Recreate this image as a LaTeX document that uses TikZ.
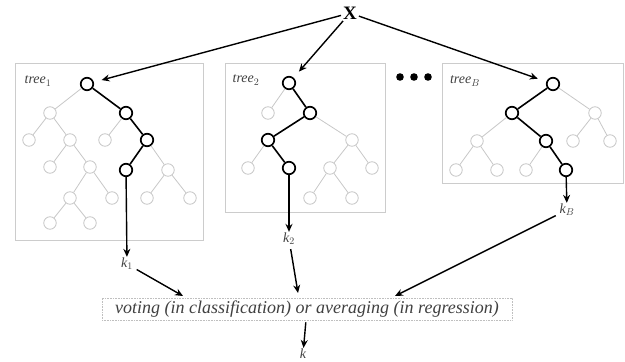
\documentclass[tikz,border=0pt]{standalone}
\usepackage{fontspec}
\setmainfont{Liberation Serif}
\usetikzlibrary{arrows.meta}

\begin{document}
\begin{tikzpicture}[x=1pt, y=-1pt,
    pathnode/.style={circle, draw=black, line width=1.7pt, minimum size=12.5pt, inner sep=0pt},
    restnode/.style={circle, draw=black!22, line width=0.8pt, minimum size=12.5pt, inner sep=0pt},
    restedge/.style={draw=black!22, line width=0.8pt},
    pathedge/.style={draw=black, line width=1.6pt},
    frame/.style={draw=black!20, line width=0.6pt},
    flow/.style={-{Stealth[length=8pt,width=7pt]}, line width=1.4pt},
    lbl/.style={inner sep=1pt, font=\fontsize{14}{16}\selectfont\itshape, text=black!75}]
    \useasboundingbox (0,0) rectangle (625,362);

    % input
    \node[inner sep=0pt, font=\fontsize{19}{21}\selectfont\bfseries] (X) at (350,13) {X};

    % tree 1
    \draw[frame] (15,63) rectangle (203,240);
    \node[lbl] (t1) at (38,81) {tree$_1$};
    \node[pathnode] (a0) at (87,84) {};
    \node[restnode] (a1) at (50,113) {};
    \node[pathnode] (a2) at (126,113) {};
    \node[restnode] (a3) at (29,140) {};
    \node[restnode] (a4) at (70,140) {};
    \node[restnode] (a5) at (105,140) {};
    \node[pathnode] (a6) at (147,140) {};
    \node[restnode] (a7) at (50,167) {};
    \node[restnode] (a8) at (90,167) {};
    \node[pathnode] (a9) at (126,170) {};
    \node[restnode] (a10) at (168,170) {};
    \node[restnode] (a11) at (70,198) {};
    \node[restnode] (a12) at (112,198) {};
    \node[restnode] (a13) at (147,198) {};
    \node[restnode] (a14) at (190,198) {};
    \node[restnode] (a15) at (50,223) {};
    \node[restnode] (a16) at (90,223) {};
    \draw[restedge] (a0)--(a1) (a1)--(a3) (a1)--(a4) (a4)--(a7) (a4)--(a8)
      (a8)--(a11) (a8)--(a12) (a11)--(a15) (a11)--(a16) (a2)--(a5)
      (a6)--(a10) (a10)--(a13) (a10)--(a14);
    \draw[pathedge] (a0)--(a2) (a2)--(a6) (a6)--(a9);

    % tree 2
    \draw[frame] (225,63) rectangle (385,212);
    \node[lbl] (t2) at (246,80) {tree$_2$};
    \node[pathnode] (b0) at (289,83) {};
    \node[restnode] (b1) at (268,113) {};
    \node[pathnode] (b2) at (310,113) {};
    \node[pathnode] (b3) at (268,140) {};
    \node[restnode] (b4) at (352,140) {};
    \node[restnode] (b5) at (248,168) {};
    \node[pathnode] (b6) at (289,168) {};
    \node[restnode] (b7) at (330,168) {};
    \node[restnode] (b8) at (372,168) {};
    \node[restnode] (b9) at (310,198) {};
    \node[restnode] (b10) at (352,198) {};
    \draw[restedge] (b0)--(b1) (b2)--(b4) (b3)--(b5) (b4)--(b7) (b4)--(b8)
      (b7)--(b9) (b7)--(b10);
    \draw[pathedge] (b0)--(b2) (b2)--(b3) (b3)--(b6);

    % dots
    \foreach \dx in {400,414,428}
      \fill (\dx,77) circle (3.8pt);

    % tree B
    \draw[frame] (442,63) rectangle (623,183);
    \node[lbl] (tB) at (465,81) {tree$_B$};
    \node[pathnode] (c0) at (553,84) {};
    \node[pathnode] (c1) at (512,113) {};
    \node[restnode] (c2) at (595,113) {};
    \node[restnode] (c3) at (477,141) {};
    \node[pathnode] (c4) at (546,141) {};
    \node[restnode] (c5) at (573,141) {};
    \node[restnode] (c6) at (610,141) {};
    \node[restnode] (c7) at (456,170) {};
    \node[restnode] (c8) at (497,170) {};
    \node[restnode] (c9) at (526,170) {};
    \node[pathnode] (c10) at (566,170) {};
    \draw[restedge] (c0)--(c2) (c2)--(c5) (c2)--(c6) (c1)--(c3) (c3)--(c7)
      (c3)--(c8) (c4)--(c9);
    \draw[pathedge] (c0)--(c1) (c1)--(c4) (c4)--(c10);

    % outputs of the trees
    \node[lbl] (k1) at (127,264) {k$_1$};
    \node[lbl] (k2) at (289,239) {k$_2$};
    \node[lbl] (kB) at (567,210) {k$_B$};
    \draw[flow, shorten >=8pt, shorten <=2pt] (X) -- (a0);
    \draw[flow, shorten >=8pt, shorten <=2pt] (X) -- (b0);
    \draw[flow, shorten >=9pt, shorten <=2pt] (X) -- (c0);
    \draw[flow] (a9) -- (k1);
    \draw[flow] (b6) -- (k2);
    \draw[flow] (c10) -- (kB);

    % combining
    \node[draw=black!25, densely dotted, line width=0.6pt, minimum width=410pt,
      minimum height=22pt, inner sep=0pt, text=black!75,
      font=\fontsize{18}{20}\selectfont\itshape] (vote) at (307,309)
      {voting (in classification) or averaging (in regression)};
    \coordinate (in1) at (183,296);
    \coordinate (in2) at (298,293);
    \coordinate (inB) at (395,296);
    \node[lbl] (k) at (303,354) {k};
    \draw[flow, shorten <=3pt] (k1) -- (in1);
    \draw[flow, shorten <=3pt] (k2) -- (in2);
    \draw[flow, shorten <=3pt] (kB) -- (inB);
    \draw[flow, shorten <=2pt] (vote) -- (k);
\end{tikzpicture}
\end{document}
